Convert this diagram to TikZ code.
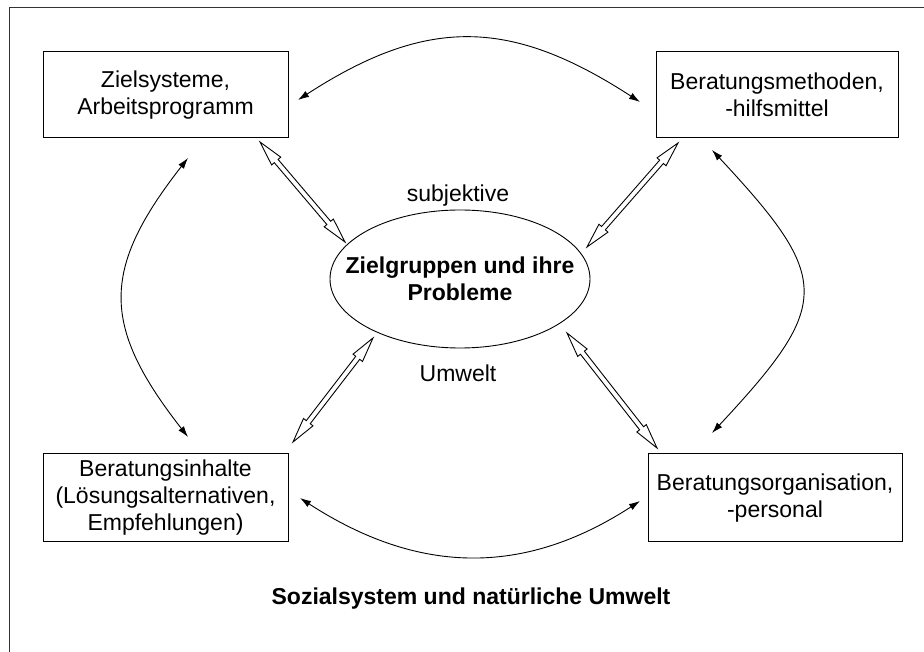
\documentclass[tikz,border=0pt]{standalone}
\usepackage{fontspec}
\setmainfont{Liberation Sans}
\usetikzlibrary{shapes.geometric,arrows.meta,calc}
\tikzset{
  txt/.style={font=\fontsize{23}{27}\selectfont, align=center, inner sep=0pt},
  box/.style={txt, draw, line width=1pt, minimum width=245pt, minimum height=86pt},
  ovalline/.style={draw, line width=0.9pt},
  curv/.style={line width=0.9pt, {Latex[length=11pt,width=7pt]}-{Latex[length=11pt,width=7pt]}},
  harrow/.style={draw, line width=0.9pt, fill=white, line join=miter},
  frame/.style={draw, line width=1pt, black!80}
}
\newcommand\hollowarrow[2]{%
  \draw[harrow] let \p1=($(#2)-(#1)$), \n1={atan2(\y1,\x1)}, \n2={veclen(\x1,\y1)} in
   (#1) -- ($(#1)+({\n1}:25)+({\n1+90}:6)$) -- ($(#1)+({\n1}:25)+({\n1+90}:2.5)$)
   -- ($(#1)+({\n1}:{\n2-25})+({\n1+90}:2.5)$) -- ($(#1)+({\n1}:{\n2-25})+({\n1+90}:6)$)
   -- (#2) -- ($(#1)+({\n1}:{\n2-25})+({\n1-90}:6)$) -- ($(#1)+({\n1}:{\n2-25})+({\n1-90}:2.5)$)
   -- ($(#1)+({\n1}:25)+({\n1-90}:2.5)$) -- ($(#1)+({\n1}:25)+({\n1-90}:6)$) -- cycle;}
\begin{document}
\begin{tikzpicture}[x=1pt,y=1pt]
\useasboundingbox (0,0) rectangle (924,651);
\clip (0,0) rectangle (924,651);
\path[frame] (9,643) rectangle (940,-20);

\node[box] (tl) at (165.5,556) {Zielsysteme,\\Arbeitsprogramm};
\node[box, minimum width=242pt] (tr) at (777,556) {Beratungsmethoden,\\-hilfsmittel};
\node[box, minimum height=88pt] (bl) at (165.5,153) {Beratungsinhalte\\(Lösungsalternativen,\\Empfehlungen)};
\node[box, minimum width=254pt, minimum height=88pt] (br) at (775,153) {Beratungsorganisation,\\-personal};

\node[txt, font=\fontsize{23}{27}\selectfont\bfseries] (ell) at (460,372) {Zielgruppen und ihre\\Probleme};
\draw[ovalline] (ell.center) ellipse [x radius=130, y radius=69];
\node[txt, anchor=base] (subj) at (458,449) {subjektive};
\node[txt, anchor=base] (umw) at (458,269) {Umwelt};
\node[txt, anchor=base, font=\fontsize{23}{27}\selectfont\bfseries] (soz) at (471,46) {Sozialsystem und natürliche Umwelt};

% curved arrow end points
\coordinate (tlA) at (298,551);
\coordinate (trA) at (640,549);
\coordinate (blA) at (300,153);
\coordinate (brA) at (640,150);
\coordinate (blB) at (188,214);
\coordinate (tlB) at (188,493);
\coordinate (brB) at (712,218);
\coordinate (trB) at (712,501);

\draw[curv] (tlA) to[out=33,in=147,looseness=1.15] (trA);
\draw[curv] (blA) to[out=-33,in=-147,looseness=1.05] (brA);
\draw[curv] (blB) to[out=128,in=232,looseness=1.3] (tlB);
\draw[curv] (brB) to[out=47,in=313,looseness=1.6] (trB);

% hollow double arrows
\coordinate (h1a) at (260,509);
\coordinate (h1b) at (345,409);
\coordinate (h2a) at (678,508);
\coordinate (h2b) at (587,404);
\coordinate (h3a) at (373,313);
\coordinate (h3b) at (293,209);
\coordinate (h4a) at (567,318);
\coordinate (h4b) at (657,203);
\hollowarrow{h1a}{h1b}
\hollowarrow{h2a}{h2b}
\hollowarrow{h3a}{h3b}
\hollowarrow{h4a}{h4b}
\end{tikzpicture}
\end{document}
